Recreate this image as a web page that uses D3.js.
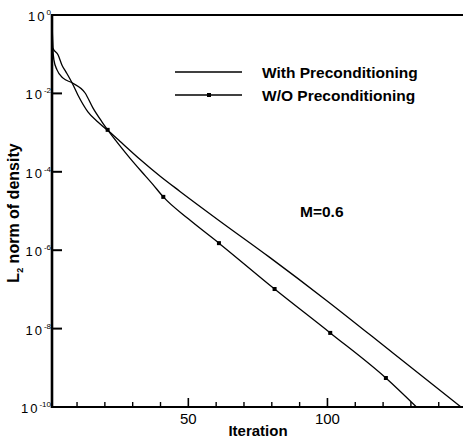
<!DOCTYPE html>
<html>
<head>
<meta charset="utf-8">
<script src="https://cdn.jsdelivr.net/npm/d3@7/dist/d3.min.js"></script>
<style>
  html, body { margin: 0; padding: 0; background: #fff; }
  svg text { font-family: "Liberation Sans", Arial, sans-serif; font-weight: bold; fill: #000; }
</style>
</head>
<body>
<svg id="chart" width="463" height="443"></svg>
<script>
// Convergence history (values are log10 of the L2 norm)
const iterWith = [1, 1.3, 3.2, 4.6, 6.0, 8.2, 10.3, 13.9, 17.5, 20.8, 25.4, 32.6, 40, 47, 61, 79, 100, 124, 148];
const logWith  = [0, -0.84, -1.02, -1.28, -1.45, -1.73, -2.04, -2.47, -2.73, -2.93, -3.22, -3.68, -4.12, -4.5, -5.24, -6.17, -7.3, -8.65, -10];

const iterWO = [1, 1.3, 1.7, 2.8, 5.0, 8.2, 12.9, 15.7, 19.0, 21, 25, 29, 33, 37, 41, 50, 61, 81, 101, 121, 132];
const logWO  = [0, -0.84, -1.15, -1.40, -1.61, -1.73, -1.99, -2.37, -2.73, -2.93, -3.3, -3.65, -3.98, -4.3, -4.64, -5.2, -5.82, -6.99, -8.11, -9.26, -10];

// every 20th iteration carries a square marker on the W/O curve
const markerIters = [21, 41, 61, 81, 101, 121];

const yTickExps = [0, -2, -4, -6, -8, -10];
const xMajorTicks = [50, 100];
const xMinorTicks = [10, 20, 30, 40, 60, 70, 80, 90, 110, 120, 130, 140];

const seriesNames = ['With Preconditioning', 'W/O Preconditioning'];

// ── Scales ──────────────────────────────────────────────────────────────────
const svg = d3.select('#chart');
const plotL = 52, plotR = 461, plotT = 15, plotB = 407;

const x = d3.scaleLinear().domain([1, 148]).range([plotL, plotR]);
const y = d3.scaleLog().domain([1e-10, 1]).range([plotB, plotT]);

const pts = (its, logs) => its.map((it, i) => [it, Math.pow(10, logs[i])]);
const line = d3.line().x(d => x(d[0])).y(d => y(d[1])).curve(d3.curveMonotoneX);

// ── Curves ──────────────────────────────────────────────────────────────────
svg.append('path')
  .datum(pts(iterWith, logWith))
  .attr('d', line)
  .attr('fill', 'none').attr('stroke', '#000').attr('stroke-width', 1.3);

const woPts = pts(iterWO, logWO);
svg.append('path')
  .datum(woPts)
  .attr('d', line)
  .attr('fill', 'none').attr('stroke', '#000').attr('stroke-width', 1.3);

const woInterp = it => {
  const i = d3.bisector(d => d[0]).left(woPts, it);
  const a = woPts[i - 1], b = woPts[i];
  if (!a) return b[1];
  const t = (it - a[0]) / (b[0] - a[0]);
  return Math.pow(10, Math.log10(a[1]) + t * (Math.log10(b[1]) - Math.log10(a[1])));
};

svg.append('g').selectAll('rect')
  .data(markerIters)
  .join('rect')
  .attr('x', d => x(d) - 2).attr('y', d => y(woInterp(d)) - 2)
  .attr('width', 4).attr('height', 4)
  .attr('fill', '#000');

// ── Axes (frame with inward ticks) ─────────────────────────────────────────
const frame = svg.append('g').attr('stroke', '#000').attr('fill', 'none');
frame.append('line').attr('x1', plotL).attr('x2', plotL).attr('y1', plotT - 1).attr('y2', plotB + 1).attr('stroke-width', 2.6);
frame.append('line').attr('x1', plotL).attr('x2', 463).attr('y1', plotT).attr('y2', plotT).attr('stroke-width', 2.2);
frame.append('line').attr('x1', plotL).attr('x2', 463).attr('y1', plotB).attr('y2', plotB).attr('stroke-width', 2.2);

frame.selectAll('.ytick')
  .data(yTickExps.filter(e => e !== 0 && e !== -10))
  .join('line')
  .attr('x1', plotL).attr('x2', plotL + 10)
  .attr('y1', d => y(Math.pow(10, d))).attr('y2', d => y(Math.pow(10, d)))
  .attr('stroke-width', 2);

frame.selectAll('.xmajor')
  .data(xMajorTicks)
  .join('line')
  .attr('x1', d => x(d)).attr('x2', d => x(d))
  .attr('y1', plotB).attr('y2', plotB - 9)
  .attr('stroke-width', 1.6);

frame.selectAll('.xminor')
  .data(xMinorTicks)
  .join('line')
  .attr('x1', d => x(d)).attr('x2', d => x(d))
  .attr('y1', plotB).attr('y2', plotB - 5)
  .attr('stroke-width', 1.4);

// y tick labels: 10 with superscript exponent
const yl = svg.append('g').selectAll('text')
  .data(yTickExps)
  .join('text')
  .attr('x', 51)
  .attr('y', d => y(Math.pow(10, d)) + 6)
  .attr('text-anchor', 'end')
  .style('font-weight', 'normal')
  .style('font-size', '13px');
yl.append('tspan').text('10').style('letter-spacing', '2px');
yl.append('tspan').attr('dy', -6).style('font-size', '8px').text(d => d === 0 ? '0' : '-' + Math.abs(d));

// x tick labels
svg.append('g').selectAll('text')
  .data(xMajorTicks)
  .join('text')
  .attr('x', d => x(d)).attr('y', 424)
  .attr('text-anchor', 'middle')
  .style('font-weight', 'normal')
  .style('font-size', '15px')
  .text(d => d);

// axis titles
svg.append('text')
  .attr('x', 258).attr('y', 436)
  .attr('text-anchor', 'middle')
  .style('font-size', '15px')
  .text('Iteration');

const yt = svg.append('text')
  .attr('transform', 'translate(19,213) rotate(-90)')
  .attr('text-anchor', 'middle')
  .style('font-size', '16px');
yt.append('tspan').text('L');
yt.append('tspan').attr('dy', 4).style('font-size', '9px').text('2');
yt.append('tspan').attr('dy', -4).text(' norm of density');

// ── Legend ──────────────────────────────────────────────────────────────────
const legend = svg.append('g');
const legY = [72, 95];
legend.selectAll('line')
  .data(seriesNames)
  .join('line')
  .attr('x1', 175).attr('x2', 242)
  .attr('y1', (d, i) => legY[i]).attr('y2', (d, i) => legY[i])
  .attr('stroke', '#000').attr('stroke-width', 1.3);
legend.append('rect')
  .attr('x', 207).attr('y', legY[1] - 2).attr('width', 4).attr('height', 4)
  .attr('fill', '#000');
legend.selectAll('text')
  .data(seriesNames)
  .join('text')
  .attr('x', 262)
  .attr('y', (d, i) => legY[i] + 6)
  .style('font-size', '15.5px')
  .text(d => d);

svg.append('text')
  .attr('x', 300).attr('y', 217)
  .style('font-size', '15.5px')
  .text('M=0.6');
</script>
</body>
</html>
